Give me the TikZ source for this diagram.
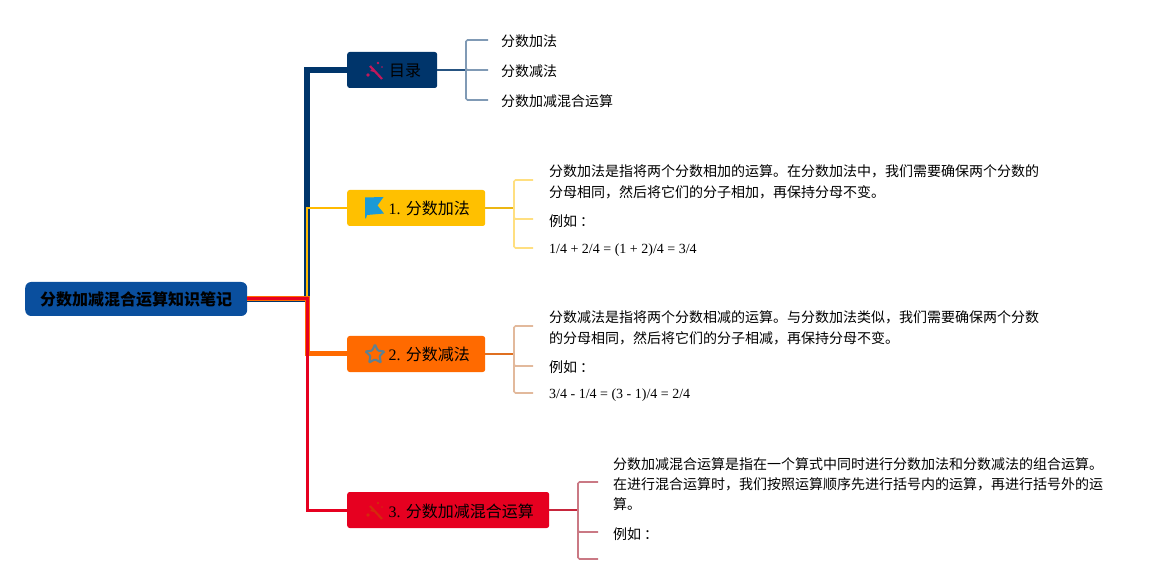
\documentclass[tikz,border=0pt]{standalone}
\usepackage{fontspec}
\setmainfont{Liberation Serif}
\newfontfamily\cjk{Noto Sans CJK SC}
\usetikzlibrary{shapes.geometric}
\newcommand{\zh}[1]{{\cjk #1}}
\newcommand{\wandicon}[2]{%
  \begin{scope}[shift={(#1)}]
    \draw[#2,line width=2.2pt] (-5,-4) -- (7,9);
    \fill[#2] (3,-7) circle (1.4pt) (-7,5) circle (1.8pt) (7,-3) circle (0.8pt);
    \fill[#2] (-5,1) -- (-2,-2) -- (-1,2) -- cycle;
  \end{scope}}
\definecolor{rootblue}{HTML}{0A4F9E}
\definecolor{tocblue}{HTML}{00356B}
\definecolor{addyellow}{HTML}{FFC000}
\definecolor{suborange}{HTML}{FF6A00}
\definecolor{mixred}{HTML}{E60020}
\definecolor{flagblue}{HTML}{1B9AD6}
\definecolor{wandpink}{HTML}{C2185B}
\definecolor{wandred}{HTML}{D42A0C}
\definecolor{starslate}{HTML}{5F8090}

\begin{document}
\begin{tikzpicture}[x=1pt,y=-1pt,
  topic/.style={rectangle,rounded corners=2.5pt,anchor=west,minimum height=36pt,inner xsep=0pt,
    text height=15pt,text depth=1pt,
    font=\fontsize{16}{20}\selectfont,text=black,execute at begin node={\hspace*{26pt}}},
  root/.style={rectangle,rounded corners=6pt,fill=rootblue,anchor=west,minimum width=222pt,minimum height=34pt,
    inner sep=0pt,font=\cjk\bfseries\fontsize{16}{20}\selectfont},
  note/.style={anchor=west,align=left,inner sep=0pt,font=\cjk\fontsize{14}{21}\selectfont},
  sum/.style={anchor=west,inner sep=0pt,font=\fontsize{14}{21}\selectfont},
  link/.style={line width=2pt},
  fork/.style={line width=1.6pt,rounded corners=1.5pt}]
\useasboundingbox (0,0) rectangle (1173,585);

%% topics
\node[root] (root) at (25,299) {分数加减混合运算知识笔记};
\coordinate (spine) at (307,299);
\node[topic,fill=tocblue,minimum width=90pt] (toc) at (347,70) {\zh{目录}};
\node[topic,fill=addyellow,minimum width=138pt] (add) at (347,208) {1. \zh{分数加法}};
\node[topic,fill=suborange,minimum width=138pt] (sub) at (347,354) {2. \zh{分数减法}};
\node[topic,fill=mixred,minimum width=202pt] (mix) at (347,510) {3. \zh{分数加减混合运算}};

%% trunk
\draw[tocblue,line width=6pt] (root.east) -- (spine) |- (toc.west);
\draw[addyellow!90!orange,line width=2pt] (spine) |- (add.west);
\draw[suborange,line width=5pt] (root.east) -- (spine) |- (sub.west);
\draw[mixred,line width=3pt] (root.east) -- (spine) |- (mix.west);

%% icons
\wandicon{375,70}{wandpink}
\fill[flagblue] (365,197.5) -- (383.5,197) -- (377.5,205.5) -- (384,213.5) -- (367,215) -- (366,218.5) -- (365,218.5) -- cycle;
\node[star,star points=5,star point ratio=2.1,draw=starslate,line width=2pt,rounded corners=1pt,
  minimum size=20pt,inner sep=0pt] (staricon) at (375,354.5) {};
\wandicon{375,510}{wandred}

%% contents
\node[note] (toca) at (501,41) {分数加法};
\node[note] (tocb) at (501,71) {分数减法};
\node[note] (tocc) at (501,101) {分数加减混合运算};
\coordinate (tocfork) at (466,70);
\draw[link,tocblue!85!white] (toc.east) -- (tocfork);
\foreach \t in {toca,tocb,tocc}
  \draw[fork,tocblue!50!white] (tocfork) |- ([xshift=-13pt,yshift=1pt]\t.west);

\node[note] (adda) at (549,181.5) {分数加法是指将两个分数相加的运算。在分数加法中，我们需要确保两个分数的\\分母相同，然后将它们的分子相加，再保持分母不变。};
\node[note] (addb) at (549,221) {例如\kern3pt：};
\node[sum] (addc) at (549,250) {1/4 + 2/4 = (1 + 2)/4 = 3/4};
\coordinate (addfork) at (514,208);
\draw[link,addyellow!85!gray] (add.east) -- (addfork);
\foreach \t/\e in {180/adda,219/addb,248/addc}
  \draw[fork,addyellow!50!white] (addfork) |- ([xshift=-16pt,yshift=208pt-\t pt]\e.west |- addfork);

\node[note] (suba) at (549,327.5) {分数减法是指将两个分数相减的运算。与分数加法类似，我们需要确保两个分数\\的分母相同，然后将它们的分子相减，再保持分母不变。};
\node[note] (subb) at (549,367) {例如\kern3pt：};
\node[sum] (subc) at (549,395.5) {3/4 - 1/4 = (3 - 1)/4 = 2/4};
\coordinate (subfork) at (514,354);
\draw[link,suborange!75!gray] (sub.east) -- (subfork);
\foreach \t/\e in {326/suba,366/subb,393/subc}
  \draw[fork,suborange!55!gray!50!white] (subfork) |- ([xshift=-16pt,yshift=354pt-\t pt]\e.west |- subfork);

\node[note,font=\cjk\fontsize{14}{20}\selectfont] (mixa) at (613,484) {分数加减混合运算是指在一个算式中同时进行分数加法和分数减法的组合运算。\\在进行混合运算时，我们按照运算顺序先进行括号内的运算，再进行括号外的运\\算。};
\node[note] (mixb) at (613,534) {例如\kern3pt：};
\coordinate (mixc) at (613,559);
\coordinate (mixfork) at (578,510);
\draw[link,mixred!70!gray] (mix.east) -- (mixfork);
\draw[fork,mixred!50!gray!70!white] (mixfork) |- ([xshift=-15pt,yshift=28pt]mixa.west |- mixfork);
\draw[fork,mixred!50!gray!70!white] (mixfork) |- ([xshift=-15pt,yshift=-22pt]mixb.west |- mixfork);
\draw[fork,mixred!50!gray!70!white] (mixfork) |- ([xshift=-15pt]mixc);
\end{tikzpicture}
\end{document}
